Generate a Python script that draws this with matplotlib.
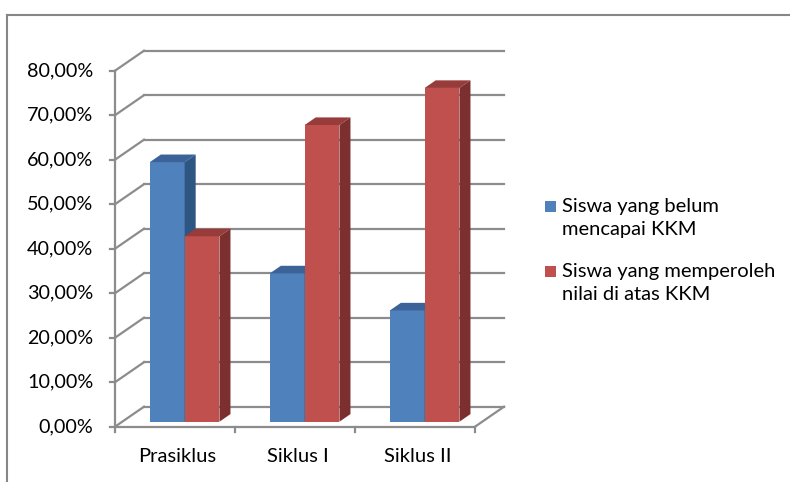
import matplotlib
matplotlib.use("Agg")
import matplotlib.pyplot as plt
from matplotlib.patches import Polygon
from matplotlib.lines import Line2D
import numpy as np

categories = ["Prasiklus", "Siklus I", "Siklus II"]
series_names = ["Siswa yang belum\nmencapai KKM", "Siswa yang memperoleh\nnilai di atas KKM"]
belum = [58.33, 33.33, 25.00]
atas = [41.67, 66.67, 75.00]
yticks = [0, 10, 20, 30, 40, 50, 60, 70, 80]
ytick_labels = ["0,00%", "10,00%", "20,00%", "30,00%", "40,00%", "50,00%", "60,00%", "70,00%", "80,00%"]

front_cols = ["#4F81BD", "#C0504D"]
top_cols = ["#3B6397", "#973C3A"]
side_cols = ["#2F5583", "#7B2F2E"]
grid_col = "#8C8C8C"

plt.rcParams['font.family'] = ['Lato', 'DejaVu Sans']
FS = 14.5
FS_T = 14.2

W, H = 790, 482
fig = plt.figure(figsize=(W / 100, H / 100), dpi=100)
fig.patch.set_facecolor("white")

# frame border
fig.add_artist(Line2D([7 / W, 7 / W], [0, 1 - 15 / H], transform=fig.transFigure, color="#868686", lw=1.5))
fig.add_artist(Line2D([7 / W, 1], [1 - 15 / H, 1 - 15 / H], transform=fig.transFigure, color="#868686", lw=1.5))

x0, x1 = 115, 475
y0, y1 = 426.7, 70.7
ax = fig.add_axes([x0 / W, 1 - y0 / H, (x1 - x0) / W, (y0 - y1) / H])
ax.set_xlim(0, 3)
ax.set_ylim(0, 80)
ax.axis("off")

ncat = len(categories)
# depth in data units
DX = 29 / ((x1 - x0) / ncat)
DY = 20 / ((y0 - y1) / 80)

# back wall & left wall gridlines
for v in yticks:
    ax.plot([DX, ncat + DX], [v + DY, v + DY], color=grid_col, lw=1.6, clip_on=False, zorder=1)
    ax.plot([0, DX], [v, v + DY], color=grid_col, lw=1.6, clip_on=False, zorder=1)
# floor right edge
ax.plot([ncat, ncat + DX], [0, DY], color=grid_col, lw=1.6, clip_on=False, zorder=1)
# front axes
ax.plot([0, 0], [0, 80], color=grid_col, lw=1.6, clip_on=False, zorder=5)
ax.plot([0, ncat], [0, 0], color=grid_col, lw=1.6, clip_on=False, zorder=5)
tick_dx = 5 / ((x1 - x0) / ncat)
tick_dy = 5 / ((y0 - y1) / 80)
for v, lab in zip(yticks, ytick_labels):
    ax.plot([-tick_dx, 0], [v, v], color=grid_col, lw=1.6, clip_on=False, zorder=5)
    ax.text(-0.18, v, lab, ha="right", va="center", fontsize=FS_T, color="black")
for i in range(ncat + 1):
    ax.plot([i, i], [0, -tick_dy], color=grid_col, lw=1.6, clip_on=False, zorder=5)
for i, c in enumerate(categories):
    ax.text(i + 0.52, -6.8, c, ha="center", va="center", fontsize=FS, color="black")

# bars
bar_w = 0.29
f_front = 0.25
f_back = 0.63
z = 10
for i in range(ncat):
    cx = i + 0.5 + f_front * DX + 0.02
    for s, vals in enumerate([belum, atas]):
        v = vals[i]
        xl = cx - bar_w + s * bar_w
        xr = xl + bar_w
        ox, oy = f_front * DX, f_front * DY
        bx, by = (f_back - f_front) * DX, (f_back - f_front) * DY
        yb = oy
        yt = oy + v
        ax.add_patch(Polygon([[xl, yb], [xr, yb], [xr, yt], [xl, yt]], closed=True,
                             facecolor=front_cols[s], edgecolor="none", zorder=z, clip_on=False))
        ax.add_patch(Polygon([[xl, yt], [xr, yt], [xr + bx, yt + by], [xl + bx, yt + by]], closed=True,
                             facecolor=top_cols[s], edgecolor="none", zorder=z, clip_on=False))
        ax.add_patch(Polygon([[xr, yb], [xr + bx, yb + by], [xr + bx, yt + by], [xr, yt]], closed=True,
                             facecolor=side_cols[s], edgecolor="none", zorder=z, clip_on=False))
        z += 1

# legend
lx = 545 / W
for s, (name, ly) in enumerate(zip(series_names, [207, 272])):
    fig.add_artist(plt.Rectangle((lx, 1 - (ly + 5) / H), 11 / W, 11 / H, transform=fig.transFigure,
                                 facecolor=front_cols[s], edgecolor="none"))
    fig.text(562 / W, 1 - (ly - 9) / H, name, ha="left", va="top", fontsize=FS,
             linespacing=1.4, color="black")

fig.savefig("out.png", dpi=100, facecolor="white")
